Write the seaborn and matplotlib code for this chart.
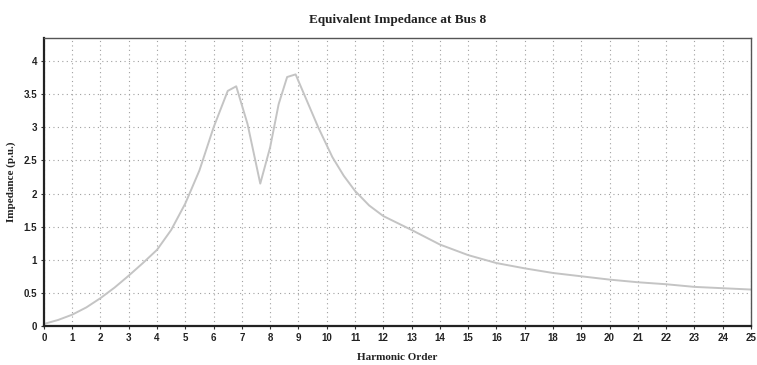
import matplotlib
matplotlib.use("Agg")
import matplotlib.pyplot as plt
import seaborn as sns
import pandas as pd
import numpy as np

harmonic_order = [0, 0.5, 1, 1.5, 2, 2.5, 3, 3.5, 4, 4.5, 5, 5.5, 6, 6.5, 6.8,
                  7.2, 7.65, 8.0, 8.3, 8.6, 8.9, 9.2, 9.7, 10.2, 10.6, 11, 11.5,
                  12, 13, 14, 15, 16, 17, 18, 19, 20, 21, 22, 23, 24, 25]
impedance = [0.03, 0.09, 0.17, 0.28, 0.42, 0.58, 0.76, 0.95, 1.15, 1.45, 1.85,
             2.35, 3.0, 3.55, 3.62, 3.05, 2.15, 2.7, 3.35, 3.76, 3.8, 3.5, 3.0,
             2.55, 2.27, 2.04, 1.82, 1.66, 1.45, 1.23, 1.07, 0.95, 0.87, 0.8,
             0.75, 0.7, 0.66, 0.63, 0.59, 0.57, 0.55]
x_ticks = list(range(0, 26))
y_ticks = [0, 0.5, 1, 1.5, 2, 2.5, 3, 3.5, 4]
y_tick_labels = ["0", "0.5", "1", "1.5", "2", "2.5", "3", "3.5", "4"]

df = pd.DataFrame({"Harmonic Order": harmonic_order, "Impedance": impedance})

sns.set_theme(style="white")
plt.rcParams["font.family"] = ["Liberation Serif", "DejaVu Serif"]

fig = plt.figure(figsize=(7.57, 3.65), dpi=100)
ax = fig.add_axes([0.058, 0.107, 0.934, 0.789])

sns.lineplot(data=df, x="Harmonic Order", y="Impedance", ax=ax,
             color="#c4c4c4", linewidth=1.4)

ax.set_xlim(0, 25)
ax.set_ylim(0, 4.35)
ax.set_xticks(x_ticks)
ax.set_xticklabels([str(t) for t in x_ticks], fontsize=7, fontweight="bold",
                   family="Liberation Sans", color="#222222")
ax.set_yticks(y_ticks)
ax.set_yticklabels(y_tick_labels, fontsize=7, fontweight="bold",
                   family="Liberation Sans", color="#222222")
ax.tick_params(axis="both", length=2, width=0.8, pad=3, color="#333333",
               bottom=True, left=True)

ax.grid(True, which="major", linestyle=(0, (1, 3)), color="#a0a0a0", linewidth=0.8)

for side in ["left", "bottom"]:
    ax.spines[side].set_color("#222222")
    ax.spines[side].set_linewidth(1.6)
for side in ["top", "right"]:
    ax.spines[side].set_color("#555555")
    ax.spines[side].set_linewidth(1.0)

ax.set_title("Equivalent Impedance at Bus 8", fontsize=9.5, fontweight="bold",
             color="#222222", pad=11)
ax.set_xlabel("Harmonic Order", fontsize=8, fontweight="bold", color="#222222",
              labelpad=7)
ax.set_ylabel("Impedance (p.u.)", fontsize=8, fontweight="bold", color="#222222",
              labelpad=5)

fig.savefig("out.png", dpi=100, facecolor="white")
